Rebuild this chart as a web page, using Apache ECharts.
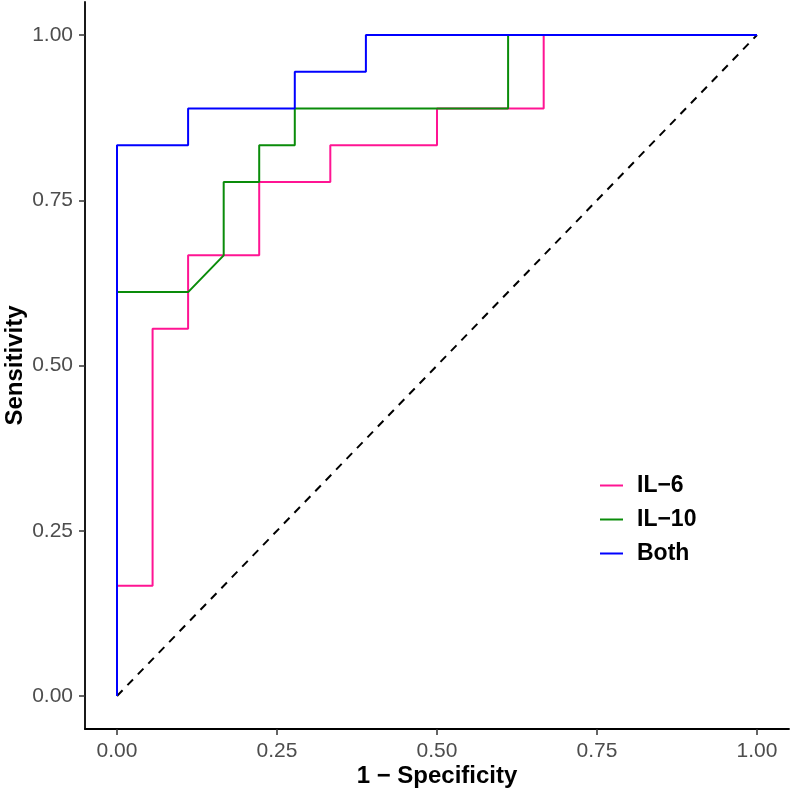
<!DOCTYPE html>
<html>
<head>
<meta charset="utf-8">
<script src="https://cdn.jsdelivr.net/npm/echarts@6/dist/echarts.min.js"></script>
<style>html,body{margin:0;padding:0;background:#fff;}#c{width:792px;height:791px;}</style>
</head>
<body>
<div id="c"></div>
<script>
var tickValues = [0, 0.25, 0.5, 0.75, 1];
var seriesNames = ['IL\u22126', 'IL\u221210', 'Both'];
var il6Fpr = [0, 0, 0.0556, 0.0556, 0.1111, 0.1111, 0.2222, 0.2222, 0.3333, 0.3333, 0.5, 0.5, 0.6667, 0.6667, 1];
var il6Tpr = [0, 0.1667, 0.1667, 0.5556, 0.5556, 0.6667, 0.6667, 0.7778, 0.7778, 0.8333, 0.8333, 0.8889, 0.8889, 1, 1];
var il10Fpr = [0, 0, 0.1111, 0.1667, 0.1667, 0.2222, 0.2222, 0.2778, 0.2778, 0.6111, 0.6111, 1];
var il10Tpr = [0, 0.6111, 0.6111, 0.6667, 0.7778, 0.7778, 0.8333, 0.8333, 0.8889, 0.8889, 1, 1];
var bothFpr = [0, 0, 0.1111, 0.1111, 0.2778, 0.2778, 0.3889, 0.3889, 1];
var bothTpr = [0, 0.8333, 0.8333, 0.8889, 0.8889, 0.9444, 0.9444, 1, 1];
var refFpr = [0, 1];
var refTpr = [0, 1];

function pairs(xs, ys) { return xs.map(function (x, i) { return [x, ys[i]]; }); }

var FONT = 'Liberation Sans, Arial, sans-serif';
var colors = ['#FF1493', '#0A8C0A', '#0000FF'];

var chart = echarts.init(document.getElementById('c'), null, { renderer: 'canvas' });
var axisCommon = {
  type: 'value', min: -0.05, max: 1.05,
  splitLine: { show: false },
  axisLine: { show: true, onZero: false, lineStyle: { color: '#000', width: 1.8 } },
  axisTick: { show: true, customValues: tickValues, length: 6, lineStyle: { color: '#333', width: 1.5 } },
  axisLabel: { customValues: tickValues, color: '#4D4D4D', fontSize: 21, fontFamily: FONT,
    formatter: function (v) { return v.toFixed(2); } },
  nameLocation: 'middle',
  nameMoveOverlap: false,
  nameTextStyle: { color: '#000', fontSize: 24, fontWeight: 'bold', fontFamily: FONT }
};
chart.setOption({
  animation: false,
  backgroundColor: '#fff',
  grid: { left: 85, right: 3, top: 2, bottom: 62, outerBoundsMode: 'none', containLabel: false },
  xAxis: Object.assign({}, axisCommon, {
    name: '1 \u2212 Specificity', nameGap: 35,
    axisLabel: Object.assign({}, axisCommon.axisLabel, { margin: 12 })
  }),
  yAxis: Object.assign({}, axisCommon, {
    name: 'Sensitivity', nameGap: 58,
    axisLabel: Object.assign({}, axisCommon.axisLabel, { margin: 12 })
  }),
  legend: {
    data: seriesNames, orient: 'vertical', left: 595, top: 469,
    icon: 'rect', itemWidth: 23, itemHeight: 2, itemGap: 11,
    textStyle: { fontSize: 23, fontWeight: 'bold', color: '#000', fontFamily: FONT, padding: [0, 0, 0, 9] }
  },
  series: [
    { name: 'ref', type: 'line', data: pairs(refFpr, refTpr), symbol: 'none', silent: true,
      lineStyle: { color: '#000', width: 2, type: [8, 7] }, z: 1 },
    { name: seriesNames[0], type: 'line', data: pairs(il6Fpr, il6Tpr), symbol: 'none',
      itemStyle: { color: colors[0] }, lineStyle: { color: colors[0], width: 2 }, z: 2 },
    { name: seriesNames[1], type: 'line', data: pairs(il10Fpr, il10Tpr), symbol: 'none',
      itemStyle: { color: colors[1] }, lineStyle: { color: colors[1], width: 2 }, z: 3 },
    { name: seriesNames[2], type: 'line', data: pairs(bothFpr, bothTpr), symbol: 'none',
      itemStyle: { color: colors[2] }, lineStyle: { color: colors[2], width: 2 }, z: 4 }
  ]
});
</script>
</body>
</html>
